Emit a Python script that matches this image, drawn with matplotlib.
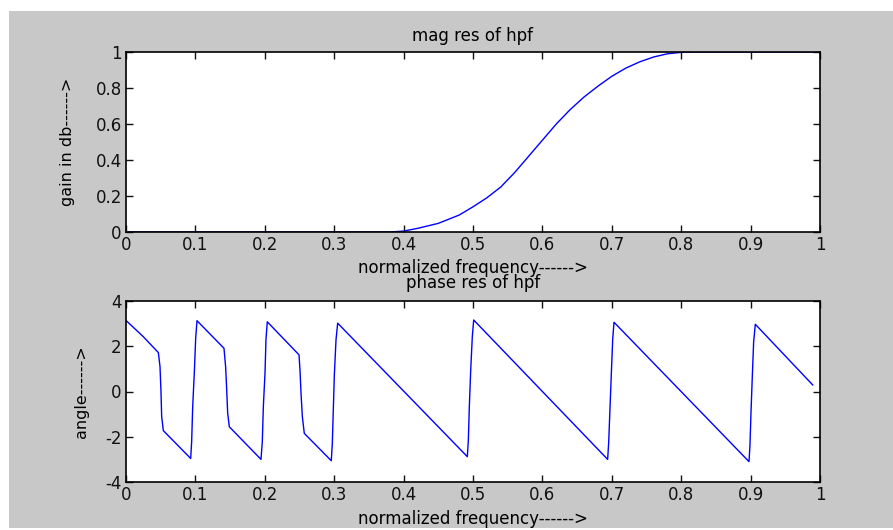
import matplotlib
matplotlib.use("Agg")
import matplotlib.pyplot as plt
from matplotlib.patches import Rectangle

# magnitude response of the high pass filter
mag_f = [0.0, 0.38, 0.40, 0.42, 0.45, 0.48, 0.50, 0.52, 0.54, 0.56, 0.58,
         0.60, 0.62, 0.64, 0.66, 0.68, 0.70, 0.72, 0.74, 0.76, 0.78, 0.80,
         0.82, 0.99]
mag_g = [0.0, 0.0, 0.005, 0.02, 0.048, 0.094, 0.14, 0.19, 0.25, 0.33, 0.42,
         0.51, 0.60, 0.68, 0.75, 0.81, 0.865, 0.91, 0.945, 0.972, 0.99, 0.998,
         1.0, 1.0]

# phase response (wrapped)
ph_f = [0.0, 0.025, 0.0466, 0.049, 0.0504, 0.0514, 0.0538,
        0.0932, 0.0946, 0.0961, 0.0985, 0.1004, 0.1023,
        0.1412, 0.1436, 0.1450, 0.1465, 0.1489,
        0.1945, 0.1964, 0.1979, 0.2003, 0.2017, 0.2036,
        0.2493, 0.2507, 0.2522, 0.2541, 0.2569,
        0.2958, 0.2973, 0.2987, 0.3002, 0.3026, 0.3050,
        0.4918, 0.4933, 0.4947, 0.4967, 0.4990, 0.5010,
        0.6940, 0.6955, 0.6974, 0.6993, 0.7013, 0.7032,
        0.8977, 0.8991, 0.9006, 0.9025, 0.9044, 0.9068,
        0.9895]
ph_a = [3.14, 2.42, 1.72, 1.10, 0.0, -1.11, -1.73,
        -2.96, -2.22, -0.67, 0.88, 2.35, 3.13,
        1.91, 1.07, 0.14, -0.96, -1.56,
        -3.0, -2.22, -0.67, 0.81, 2.31, 3.08,
        1.62, 0.95, -0.08, -1.11, -1.85,
        -3.06, -2.29, -0.82, 0.73, 2.28, 3.02,
        -2.88, -2.15, -0.67, 0.95, 2.42, 3.16,
        -3.0, -2.26, -0.74, 0.77, 2.32, 3.06,
        -3.1, -2.37, -0.89, 0.70, 2.20, 2.97,
        0.29]

xticks = [0, 0.1, 0.2, 0.3, 0.4, 0.5, 0.6, 0.7, 0.8, 0.9, 1]
xticklabels = ["0", "0.1", "0.2", "0.3", "0.4", "0.5", "0.6", "0.7", "0.8", "0.9", "1"]

plt.rcParams["font.family"] = ["DejaVu Sans"]
plt.rcParams["axes.unicode_minus"] = False
W, H = 893, 530
fig = plt.figure(figsize=(W / 100, H / 100), dpi=100, facecolor="white")
fig.patches.append(Rectangle((9 / W, 2 / H), 884 / W, 517 / H,
                             transform=fig.transFigure, facecolor="#c8c8c8",
                             edgecolor="none", zorder=-10))

ax1 = fig.add_axes([126 / W, 298 / H, 694 / W, 180 / H])
ax2 = fig.add_axes([126 / W, 48 / H, 694 / W, 181 / H])


def style(ax):
    ax.set_facecolor("white")
    for s in ax.spines.values():
        s.set_linewidth(1.2)
        s.set_color("black")
    ax.tick_params(direction="in", length=5, width=1, top=True, right=True,
                   labelsize=12, pad=3, colors="#111111")
    ax.set_xlim(0, 1)
    ax.set_xticks(xticks)
    ax.set_xticklabels(xticklabels)


ax1.plot(mag_f, mag_g, color="#0000ff", lw=1.0)
style(ax1)
ax1.set_ylim(0, 1)
ax1.set_yticks([0, 0.2, 0.4, 0.6, 0.8, 1])
ax1.set_yticklabels(["0", "0.2", "0.4", "0.6", "0.8", "1"])
ax1.set_title("mag res of hpf", fontsize=12, pad=8)
ax1.set_xlabel("normalized frequency------>", fontsize=12)
ax1.set_ylabel("gain in db------>", fontsize=11.5)
ax1.xaxis.set_label_coords(0.5, -0.148)
ax1.yaxis.set_label_coords(-0.074, 0.5)

ax2.plot(ph_f, ph_a, color="#0000ff", lw=1.0)
style(ax2)
ax2.set_ylim(-4, 4)
ax2.set_yticks([-4, -2, 0, 2, 4])
ax2.set_title("phase res of hpf", fontsize=12, pad=9)
ax2.set_xlabel("normalized frequency------>", fontsize=12)
ax2.set_ylabel("angle------>", fontsize=11.5)
ax2.xaxis.set_label_coords(0.5, -0.155)
ax2.yaxis.set_label_coords(-0.053, 0.5)

fig.savefig("out.png", dpi=100, facecolor="white")
